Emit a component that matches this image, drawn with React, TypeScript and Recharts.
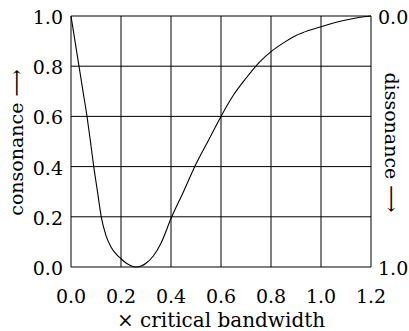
import React from "react";
import {
  LineChart,
  Line,
  XAxis,
  YAxis,
  CartesianGrid,
  Label,
} from "recharts";

// x in multiples of the critical bandwidth, y = consonance
const bandwidth = [
  0, 0.016, 0.032, 0.048, 0.064, 0.077, 0.091, 0.106, 0.121, 0.14, 0.16, 0.18,
  0.2, 0.22, 0.24, 0.26, 0.28, 0.3, 0.33, 0.36, 0.4, 0.45, 0.5, 0.55, 0.6, 0.65,
  0.7, 0.756, 0.8, 0.85, 0.9, 0.95, 1.0, 1.05, 1.1, 1.15, 1.2,
];
const consonance = [
  1.0, 0.9, 0.8, 0.7, 0.6, 0.506, 0.4, 0.3, 0.2, 0.125, 0.08, 0.052, 0.033,
  0.016, 0.005, 0.0, 0.004, 0.015, 0.045, 0.095, 0.193, 0.3, 0.41, 0.505, 0.6,
  0.685, 0.752, 0.818, 0.858, 0.893, 0.922, 0.942, 0.957, 0.972, 0.984, 0.994,
  1.0,
];

const xTicks = [0, 0.2, 0.4, 0.6, 0.8, 1.0, 1.2];
const yTicks = [0, 0.2, 0.4, 0.6, 0.8, 1.0];
const rightTicks = [0, 1.0];

const xLabel = "× critical bandwidth";
const leftLabel = "consonance ⟶";
const rightLabel = "dissonance ⟶";

const data = bandwidth.map((x, i) => ({ x, c: consonance[i] }));

const FONT = "'DejaVu Serif', serif";
const FS = 19;
const textStyle = { fontFamily: FONT, fontSize: FS, fill: "#000" };

function XTick({ x, y, payload }: any) {
  return (
    <text x={x} y={y + 36} textAnchor="middle" style={textStyle}>
      {Number(payload.value).toFixed(1)}
    </text>
  );
}

function LeftTick({ x, y, payload }: any) {
  return (
    <text x={x - 8} y={y + 8} textAnchor="end" style={textStyle}>
      {Number(payload.value).toFixed(1)}
    </text>
  );
}

function RightTick({ x, y, payload }: any) {
  return (
    <text x={x + 7} y={y + 8} textAnchor="start" style={textStyle}>
      {Number(payload.value).toFixed(1)}
    </text>
  );
}

export default function App() {
  return (
    <div style={{ position: "absolute", left: 0, top: 0, background: "#fff" }}>
      <LineChart
        width={409}
        height={331}
        data={data}
        margin={{ top: 16, right: 0, bottom: 0, left: 0 }}
      >
        <CartesianGrid stroke="#000" strokeWidth={1} />
        <XAxis
          dataKey="x"
          type="number"
          domain={[0, 1.2]}
          ticks={xTicks}
          height={64}
          axisLine={false}
          tickLine={false}
          tickSize={0}
          tickMargin={0}
          tick={<XTick />}
        >
          <Label
            content={({ viewBox }: any) => (
              <text
                x={viewBox.x + viewBox.width / 2}
                y={viewBox.y + 60}
                textAnchor="middle"
                style={{ ...textStyle, fontSize: 20 }}
              >
                {xLabel}
              </text>
            )}
          />
        </XAxis>
        <YAxis
          type="number"
          domain={[0, 1]}
          ticks={yTicks}
          width={71}
          axisLine={false}
          tickLine={false}
          tickSize={0}
          tickMargin={0}
          tick={<LeftTick />}
        >
          <Label
            content={({ viewBox }: any) => {
              const cx = 23;
              const cy = viewBox.y + viewBox.height / 2 + 1;
              return (
                <text
                  x={cx}
                  y={cy}
                  textAnchor="middle"
                  transform={`rotate(-90, ${cx}, ${cy})`}
                  style={textStyle}
                >
                  {leftLabel}
                </text>
              );
            }}
          />
        </YAxis>
        <YAxis
          yAxisId="right"
          orientation="right"
          type="number"
          domain={[0, 1]}
          allowDataOverflow
          reversed
          ticks={rightTicks}
          width={38}
          axisLine={false}
          tickLine={false}
          tickSize={0}
          tickMargin={0}
          tick={<RightTick />}
        >
          <Label
            content={({ viewBox }: any) => {
              const cx = 385;
              const cy = viewBox.y + viewBox.height / 2 + 1;
              return (
                <text
                  x={cx}
                  y={cy}
                  textAnchor="middle"
                  transform={`rotate(90, ${cx}, ${cy})`}
                  style={textStyle}
                >
                  {rightLabel}
                </text>
              );
            }}
          />
        </YAxis>
        <Line
          dataKey="c"
          type="monotone"
          stroke="#000"
          strokeWidth={1.1}
          dot={false}
          isAnimationActive={false}
        />
      </LineChart>
    </div>
  );
}
